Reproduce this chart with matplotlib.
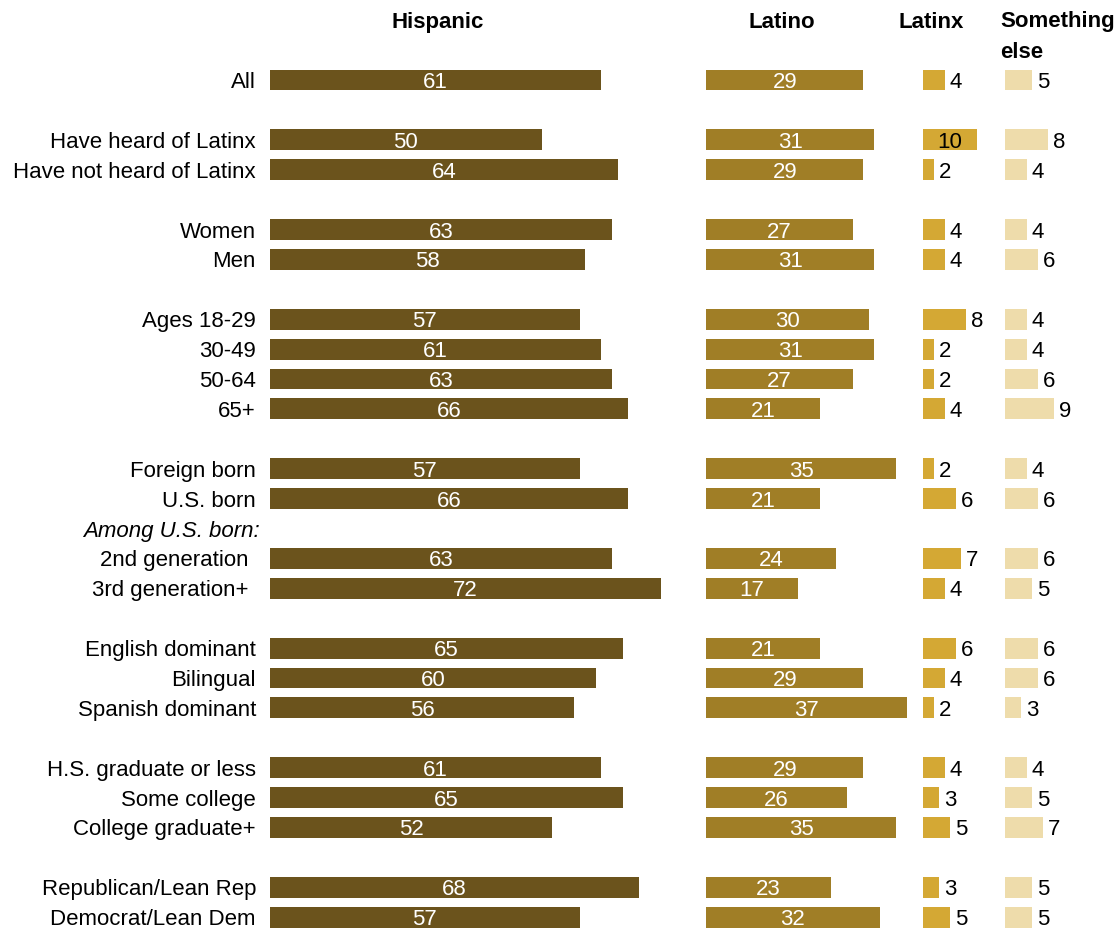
import matplotlib

matplotlib.use("Agg")
import matplotlib.pyplot as plt  # noqa: E402

plt.rcParams["font.family"] = ["Liberation Sans", "DejaVu Sans"]

# row labels with their slot (row index from top); blank slots separate groups
labels = [
    "All",
    "Have heard of Latinx", "Have not heard of Latinx",
    "Women", "Men",
    "Ages 18-29", "30-49", "50-64", "65+",
    "Foreign born", "U.S. born", "2nd generation", "3rd generation+",
    "English dominant", "Bilingual", "Spanish dominant",
    "H.S. graduate or less", "Some college", "College graduate+",
    "Republican/Lean Rep", "Democrat/Lean Dem",
]
slots = [0, 2, 3, 5, 6, 8, 9, 10, 11, 13, 14, 16, 17, 19, 20, 21, 23, 24, 25, 27, 28]

hispanic = [61, 50, 64, 63, 58, 57, 61, 63, 66, 57, 66, 63, 72, 65, 60, 56, 61, 65, 52, 68, 57]
latino = [29, 31, 29, 27, 31, 30, 31, 27, 21, 35, 21, 24, 17, 21, 29, 37, 29, 26, 35, 23, 32]
latinx = [4, 10, 2, 4, 4, 8, 2, 2, 4, 2, 6, 7, 4, 6, 4, 2, 4, 3, 5, 3, 5]
something_else = [5, 8, 4, 4, 6, 4, 4, 6, 9, 4, 6, 6, 5, 6, 6, 3, 4, 5, 7, 5, 5]

headers = ["Hispanic", "Latino", "Latinx", "Something\nelse"]
colors = ["#6b531c", "#a07e26", "#d4a834", "#eedcab"]

W, H = 1119, 931
PX = 5.43          # pixels per percentage point
ROW = 29.9         # pixels per row slot
TOP = 80           # pixel y of first row centre

fig = plt.figure(figsize=(W / 100, H / 100), dpi=100)
ax = fig.add_axes([0, 0, 1, 1])
ax.set_xlim(0, W / PX)
ax.set_ylim((H - TOP) / ROW, -TOP / ROW)
ax.axis("off")


def py(p):
    # pixel row -> data y
    return (p - TOP) / ROW


starts = [270 / PX, 706 / PX, 923 / PX, 1005 / PX]
series = [hispanic, latino, latinx, something_else]
fs = 16
va = "center_baseline"

for col, (vals, x0, c) in enumerate(zip(series, starts, colors)):
    ax.barh(slots, vals, left=x0, height=0.7, color=c, linewidth=0)
    for s, v in zip(slots, vals):
        if col < 2:
            ax.text(x0 + v / 2, s, str(v), ha="center", va=va,
                    color="white", fontsize=fs)
        elif col == 2 and v >= 10:
            ax.text(x0 + v / 2, s, str(v), ha="center", va=va,
                    color="black", fontsize=fs)
        else:
            ax.text(x0 + v + 5 / PX, s, str(v), ha="left", va=va,
                    color="black", fontsize=fs)

# row labels
for lab, s in zip(labels, slots):
    xr = 249 if "generation" in lab else 256
    ax.text(xr / PX, s, lab, ha="right", va=va, fontsize=fs)
ax.text(260 / PX, 15, "Among U.S. born:", ha="right", va=va,
        fontsize=fs, style="italic")

# column headers
hdr_x = [438, 782, 931, 1000]
for i, (h, x) in enumerate(zip(headers, hdr_x)):
    if i < 3:
        ax.text(x / PX, py(20), h, ha="center", va=va,
                fontsize=fs, fontweight="bold")
    else:
        ax.text(x / PX, py(11), h, ha="left", va="top",
                fontsize=fs, fontweight="bold", linespacing=1.6)

fig.savefig("out.png", dpi=100)
plt.close(fig)
